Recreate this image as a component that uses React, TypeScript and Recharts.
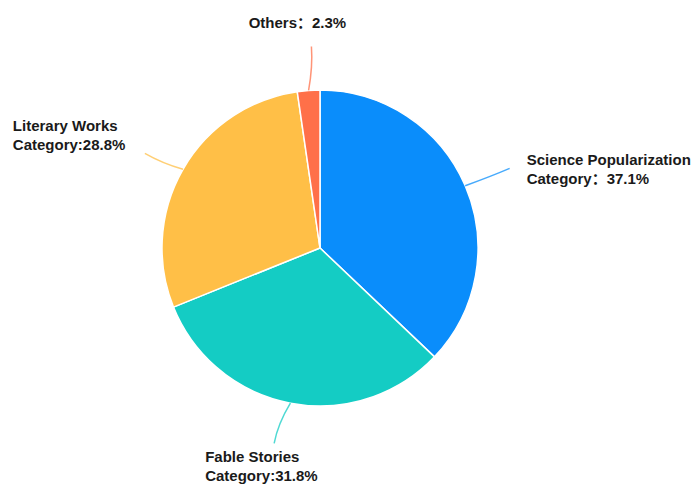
import { Cell, Pie, PieChart } from 'recharts';

const categories = ['Science Popularization', 'Fable Stories', 'Literary Works', 'Others'];
const labelTitles = ['Science Popularization', 'Fable Stories', 'Literary Works', ''];
const labelValues = ['Category：37.1%', 'Category:31.8%', 'Category:28.8%', 'Others：2.3%'];
const shares = [37.1, 31.8, 28.8, 2.3];
const colors = ['#0A8DFB', '#14CCC4', '#FFBF47', '#FF7049'];

const data = categories.map((name, i) => ({ name, value: shares[i] }));

// text placement relative to the end of each label line
const textOffsets = [
  { dx: 21, dy: -9, anchor: 'start' },
  { dx: -77, dy: 10, anchor: 'start' },
  { dx: -132, dy: -22, anchor: 'start' },
  { dx: -8, dy: -25, anchor: 'middle' },
];

const RAD = Math.PI / 180;

function lineEnds(cx: number, cy: number, r: number, midAngle: number) {
  const cos = Math.cos(-midAngle * RAD);
  const sin = Math.sin(-midAngle * RAD);
  const sx = cx + r * cos;
  const sy = cy + r * sin;
  const mx = cx + (r + 24) * cos;
  const my = cy + (r + 24) * sin;
  const ex = cx + (r + 44) * cos;
  const ey = cy + (r + 44) * sin;
  return { sx, sy, mx, my, ex, ey };
}

const bends = [
  { x: 4, y: 0 },
  { x: -8, y: -3 },
  { x: 0, y: 6 },
  { x: 6, y: 0 },
];

function renderLine(props: any) {
  const { cx, cy, outerRadius, midAngle, index } = props;
  const p = lineEnds(cx, cy, outerRadius, midAngle);
  const b = bends[index];
  return (
    <path
      d={`M${p.sx},${p.sy} Q${p.mx + b.x},${p.my + b.y} ${p.ex + b.x},${p.ey + b.y}`}
      stroke={colors[index]}
      strokeOpacity={0.75}
      strokeWidth={1.5}
      fill="none"
    />
  );
}

function renderLabel(props: any) {
  const { cx, cy, outerRadius, midAngle, index } = props;
  const p = lineEnds(cx, cy, outerRadius, midAngle);
  const o = textOffsets[index];
  const x = p.ex + o.dx;
  const y = p.ey + o.dy;
  const title = labelTitles[index];
  return (
    <text
      x={x}
      y={y}
      textAnchor={o.anchor}
      fill="#1a1a1a"
      fontSize={15}
      fontWeight={700}
      fontFamily="'Liberation Sans', Arial, 'Noto Sans CJK SC', sans-serif"
      dominantBaseline="central"
    >
      {title ? (
        <>
          <tspan x={x} dy={0}>{title}</tspan>
          <tspan x={x} dy={19}>{labelValues[index]}</tspan>
        </>
      ) : (
        <tspan x={x}>{labelValues[index]}</tspan>
      )}
    </text>
  );
}

export default function App() {
  return (
    <div style={{ position: 'absolute', left: 0, top: 0, width: 691, height: 486, background: '#fff' }}>
      <PieChart width={691} height={486} margin={{ top: 0, right: 0, bottom: 0, left: 0 }}>
        <Pie
          data={data}
          dataKey="value"
          nameKey="name"
          cx={320}
          cy={248}
          outerRadius={158}
          startAngle={90}
          endAngle={-270}
          stroke="#fff"
          strokeWidth={1.5}
          label={renderLabel}
          labelLine={renderLine}
          isAnimationActive={false}
        >
          {data.map((d, i) => (
            <Cell key={d.name} fill={colors[i]} />
          ))}
        </Pie>
      </PieChart>
    </div>
  );
}
